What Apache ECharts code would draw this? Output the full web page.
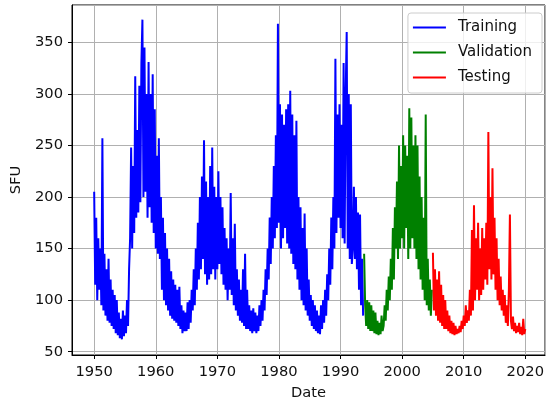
<!DOCTYPE html>
<html>
<head>
<meta charset="utf-8">
<script src="https://cdn.jsdelivr.net/npm/echarts@6/dist/echarts.min.js"></script>
<style>
  html, body { margin: 0; padding: 0; background: #fff; }
  #chart { width: 547px; height: 406px; }
</style>
</head>
<body>
<div id="chart"></div>
<script>
var step = 1 / 6;

var trainStart = 1950.0;
var training = [
  205, 115, 180, 100, 160, 110,   // 1950
  150, 95, 257, 90, 145, 85,      // 1951
  130, 80, 140, 78, 120, 75,      // 1952
  110, 72, 105, 68, 100, 66,      // 1953
  88, 63, 82, 62, 90, 65,         // 1954
  85, 68, 100, 75, 130, 160,      // 1955
  248, 150, 230, 165, 317, 180,   // 1956
  265, 185, 308, 195, 330, 372,   // 1957
  200, 345, 205, 300, 180, 331,   // 1958
  190, 300, 175, 319, 165, 285,   // 1959
  150, 240, 145, 257, 140, 200,   // 1960
  110, 180, 100, 165, 95, 150,    // 1961
  90, 140, 85, 128, 82, 120,      // 1962
  80, 115, 78, 110, 75, 113,      // 1963
  72, 95, 68, 90, 70, 88,         // 1964
  70, 98, 72, 100, 78, 110,       // 1965
  90, 130, 95, 150, 110, 175,     // 1966
  120, 200, 130, 220, 140, 255,   // 1967
  125, 215, 115, 200, 120, 230,   // 1968
  125, 248, 130, 210, 120, 200,   // 1969
  130, 225, 135, 200, 125, 190,   // 1970
  115, 170, 110, 160, 100, 150,   // 1971
  110, 204, 105, 160, 95, 174,    // 1972
  90, 130, 85, 120, 80, 110,      // 1973
  78, 130, 75, 145, 72, 110,      // 1974
  72, 95, 70, 90, 68, 92,         // 1975
  70, 88, 68, 85, 70, 95,         // 1976
  75, 100, 80, 110, 90, 130,      // 1977
  105, 150, 120, 180, 135, 200,   // 1978
  150, 230, 160, 260, 170, 368,   // 1979
  175, 290, 150, 280, 160, 270,   // 1980
  170, 285, 155, 290, 150, 303,   // 1981
  145, 280, 135, 260, 130, 274,   // 1982
  120, 200, 110, 190, 100, 170,   // 1983
  95, 184, 90, 150, 85, 120,      // 1984
  80, 105, 75, 100, 72, 95,       // 1985
  70, 90, 68, 85, 67, 95,         // 1986
  72, 100, 78, 110, 85, 125,      // 1987
  100, 150, 115, 180, 130, 200,   // 1988
  150, 334, 165, 280, 180, 290,   // 1989
  170, 270, 160, 330, 155, 300,   // 1990
  360, 150, 300, 140, 290, 135,   // 1991
  150, 210, 140, 200, 130, 185,   // 1992
  110, 183, 95, 140, 85           // 1993
];

var validStart = 1993.83;
var validation = [
  145,
  95, 75, 100, 72, 98, 70,        // 1994
  95, 70, 90, 68, 88, 67,         // 1995
  80, 66, 78, 67, 85, 70,         // 1996
  75, 95, 80, 110, 90, 123,       // 1997
  100, 140, 110, 170, 120, 190,   // 1998
  150, 215, 140, 250, 150, 230,   // 1999
  160, 260, 150, 250, 170, 240,   // 2000
  140, 286, 150, 277, 160, 250,   // 2001
  150, 260, 140, 250, 130, 220,   // 2002
  120, 200, 110, 180, 100, 280,   // 2003
  95, 140, 90, 120, 85, 110       // 2004
];

var testStart = 2005.0;
var testing = [
  146, 90, 130, 85, 120, 80,      // 2005
  128, 78, 115, 75, 105, 72,      // 2006
  100, 72, 90, 70, 85, 68,        // 2007
  80, 67, 78, 66, 75, 67,         // 2008
  72, 68, 75, 69, 80, 72,         // 2009
  85, 75, 95, 78, 90, 80,         // 2010
  110, 85, 168, 90, 192, 100,     // 2011
  160, 110, 175, 100, 150, 105,   // 2012
  170, 110, 160, 120, 175, 115,   // 2013
  263, 130, 200, 120, 228, 125,   // 2014
  180, 110, 160, 100, 140, 95,    // 2015
  123, 90, 110, 85, 105, 78,      // 2016
  95, 75, 110, 183, 80, 72,       // 2017
  84, 70, 78, 68, 75, 69,         // 2018
  78, 67, 74, 66, 82, 67,         // 2019
  72                              // 2020
];

var seriesNames = ['Training', 'Validation', 'Testing'];
var seriesColors = ['#0000ff', '#008000', '#ff0000'];

function pairs(start, vals) {
  return vals.map(function (v, i) { return [start + i * step, v]; });
}

var chart = echarts.init(document.getElementById('chart'));
var font = 'DejaVu Sans';

var segs = [[trainStart, training], [validStart, validation], [testStart, testing]];

chart.setOption({
  animation: false,
  backgroundColor: '#fff',
  grid: {
    left: 72, top: 5, width: 474, height: 354,
    show: true, borderColor: '#000', borderWidth: 1, backgroundColor: 'transparent'
  },
  legend: {
    orient: 'vertical',
    right: 5, top: 13,
    data: seriesNames.map(function (n, k) {
      return { name: n, icon: 'rect', itemStyle: { color: seriesColors[k] } };
    }),
    itemWidth: 33, itemHeight: 2, itemGap: 10,
    padding: [7, 10, 8, 5],
    backgroundColor: 'rgba(255,255,255,0.8)',
    borderColor: '#cccccc', borderWidth: 1, borderRadius: 3,
    textStyle: { fontFamily: font, fontSize: 15, color: '#111', padding: [0, 0, 0, 7] }
  },
  xAxis: {
    type: 'value',
    min: 1946.4, max: 2023.2,
    minInterval: 10, maxInterval: 10,
    name: 'Date', nameLocation: 'middle', nameGap: 31,
    nameTextStyle: { fontFamily: font, fontSize: 14.7, color: '#111' },
    axisLine: { lineStyle: { color: '#000', width: 1 } },
    axisTick: { length: 4, lineStyle: { color: '#000', width: 1 } },
    axisLabel: { fontFamily: font, fontSize: 14.7, color: '#111', margin: 10,
                 showMinLabel: false, showMaxLabel: false,
                 formatter: function (v) { return String(Math.round(v)); } },
    splitLine: { show: true, lineStyle: { color: '#b0b0b0', width: 1 } }
  },
  yAxis: {
    type: 'value',
    min: 46.8, max: 386.2,
    minInterval: 50, maxInterval: 50,
    name: 'SFU', nameLocation: 'middle', nameGap: 46,
    nameTextStyle: { fontFamily: font, fontSize: 14.7, color: '#111' },
    axisLine: { lineStyle: { color: '#000', width: 1 } },
    axisTick: { length: 4, lineStyle: { color: '#000', width: 1 } },
    axisLabel: { fontFamily: font, fontSize: 14.7, color: '#111', margin: 9,
                 showMinLabel: false, showMaxLabel: false },
    splitLine: { show: true, lineStyle: { color: '#b0b0b0', width: 1 } }
  },
  series: segs.map(function (s, k) {
    return {
      name: seriesNames[k],
      type: 'line',
      symbol: 'none',
      color: seriesColors[k],
      lineStyle: { width: 2, color: seriesColors[k] },
      data: pairs(s[0], s[1])
    };
  })
});
</script>
</body>
</html>
